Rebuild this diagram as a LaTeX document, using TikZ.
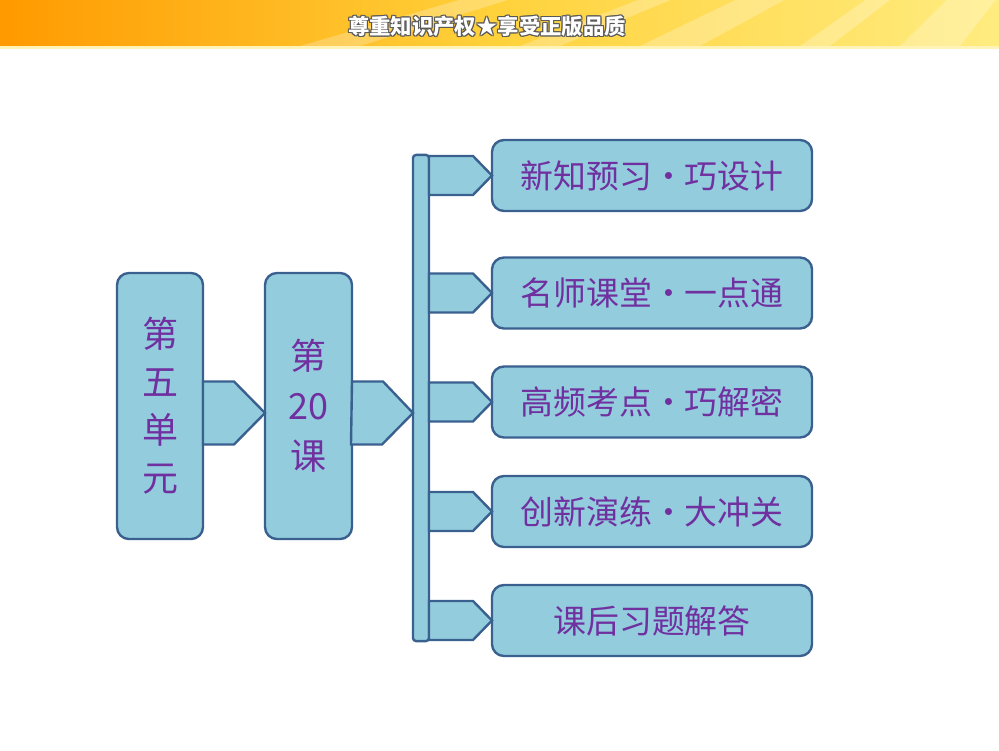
\documentclass[tikz,border=0pt]{standalone}
\usepackage{fontspec}
\usepackage{xcolor}
\usepackage{tikz}
\usetikzlibrary{positioning,calc}

\newfontfamily\cjk{Noto Sans CJK SC}

\definecolor{boxfill}{HTML}{93CDDD}
\definecolor{boxline}{HTML}{3A6090}
\definecolor{txtpurple}{HTML}{7030A0}
\definecolor{bannerorange}{HTML}{FF9A00}
\definecolor{banneryellow}{HTML}{FFD23C}
\definecolor{bannerlight}{HTML}{FFEC80}
\definecolor{bannerline}{HTML}{FFF3B8}

\tikzset{
  box/.style={draw=boxline, fill=boxfill, line width=1.7pt, outer sep=0pt,
    rounded corners=0.3cm, text=txtpurple, align=center},
  tallbox/.style={box, minimum height=6.65cm},
  secbox/.style={box, minimum width=8cm, minimum height=1.775cm,
    font=\cjk\fontsize{23.4}{27}\selectfont},
  chev/.style={draw=boxline, fill=boxfill, line width=1.7pt, line join=miter},
}

\begin{document}
\begin{tikzpicture}[x=0.025cm, y=-0.025cm]
\useasboundingbox (0,0) rectangle (999,750);

% Banner
\shade[left color=bannerorange, right color=bannerlight, middle color=banneryellow]
  (0,0) rectangle (999,46);
\foreach \a/\b in {300/360, 520/560, 640/700, 800/830, 900/960, 1010/1060}
  \fill[white, opacity=0.25] (1150,-200) -- (\a,46) -- (\b,46) -- cycle;
\fill[bannerline] (0,46) rectangle (999,49);
\foreach \dx/\dy [count=\k] in {-1/0, 1/0, 0/-1, 0/1, 1/1, -1/-1, 1/-1, -1/1}
  \node[text=black!65, font=\cjk\bfseries\fontsize{15.2}{16}\selectfont]
    (shadow\k) at (487+\dx,26+\dy) {尊重知识产权★享受正版品质};
\node[text=white, font=\cjk\bfseries\fontsize{15.2}{16}\selectfont]
  (banner) at (487,26) {尊重知识产权★享受正版品质};

% Unit and lesson
\node[tallbox, minimum width=2.15cm, font=\cjk\fontsize{25.6}{34.1}\selectfont]
  (unit) at (160,406) {第\\五\\单\\元};
\node[tallbox, minimum width=2.175cm, font=\cjk\fontsize{25.6}{35.6}\selectfont]
  (lesson) at (308.5,406) {第\\20\\课};

% Bar
\node[draw=boxline, fill=boxfill, line width=1.7pt, outer sep=0pt,
  rounded corners=0.075cm, minimum width=0.4cm, minimum height=12.15cm]
  (bar) at (421,398) {};

% Big arrows
\coordinate (row) at (0,413);
\draw[chev] (unit.east |- row) ++(0,-31.5) -- ++(31,0) -- (lesson.west |- row)
  -- ++(-31,31.5) -- ++(-31,0) -- cycle;
\draw[chev] (lesson.east |- row) ++(0,-31.5) -- ++(31,0) -- (bar.west |- row)
  -- ++(-31,31.5) -- ++(-31,0) -- cycle;

% Sections
\foreach \y/\t [count=\i] in {175.5/新知预习・巧设计, 293/名师课堂・一点通,
    402/高频考点・巧解密, 511.5/创新演练・大冲关, 620.5/课后习题解答} {
  \node[secbox] (sec\i) at (652,\y) {\t};
  \draw[chev] (bar.east |- sec\i) ++(0,-19.5) -- ++(44,0) -- (sec\i.west)
    -- ++(-19,19.5) -- ++(-44,0) -- cycle;
}

\end{tikzpicture}
\end{document}
